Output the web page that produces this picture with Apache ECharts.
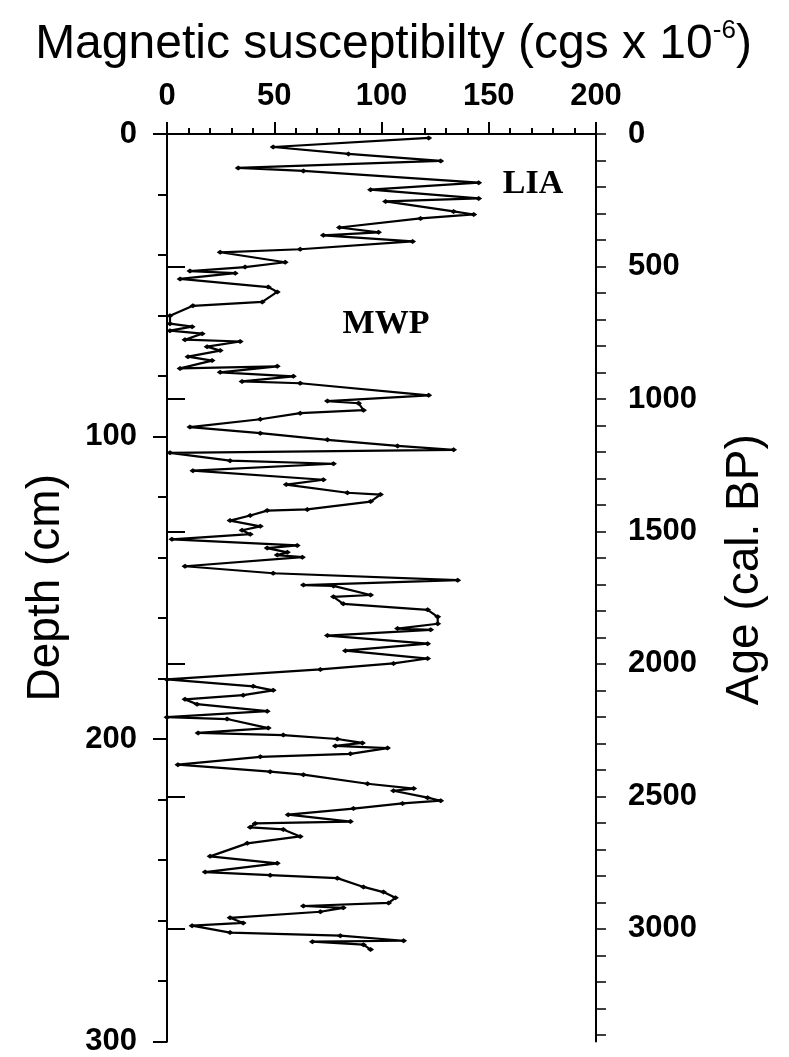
<!DOCTYPE html>
<html>
<head>
<meta charset="utf-8">
<script src="https://cdn.jsdelivr.net/npm/echarts@6/dist/echarts.min.js"></script>
<style>
  html, body { margin: 0; padding: 0; background: #fff; }
  #chart { width: 789px; height: 1057px; }
</style>
</head>
<body>
<div id="chart"></div>
<script>
// magnetic susceptibility (cgs x 10^-6), top to bottom
const susceptibility = [
  122.0, 49.5, 84.6, 127.6, 33.2, 63.6, 145.3, 94.9, 145.3, 101.9,
  133.6, 143.0, 118.2, 80.4, 98.6, 72.9, 114.5, 62.1, 24.8, 55.1,
  36.4, 10.7, 31.8, 6.1, 47.2, 51.4, 44.4, 12.1, 1.4, 1.4,
  11.7, 1.4, 16.4, 8.4, 34.1, 18.7, 24.8, 9.8, 21.0, 6.1,
  51.4, 24.8, 58.9, 35.0, 62.1, 122.0, 74.8, 89.3, 91.6, 62.1,
  43.5, 10.7, 43.5, 74.8, 107.5, 133.6, 1.4, 29.4, 77.6, 12.1,
  72.9, 55.6, 84.1, 99.5, 94.9, 65.4, 46.7, 38.8, 29.4, 43.5,
  35.0, 38.8, 2.3, 60.7, 46.7, 56.1, 51.4, 63.1, 8.4, 49.5,
  135.5, 63.6, 77.6, 94.9, 77.6, 82.2, 121.5, 126.2, 126.2, 107.5,
  122.9, 74.8, 121.5, 83.2, 121.5, 105.6, 71.5, 0.0, 40.2, 49.5,
  35.5, 8.4, 14.0, 46.7, 0.0, 28.0, 47.2, 14.5, 54.2, 79.4,
  91.1, 78.5, 102.8, 85.5, 43.5, 5.1, 48.1, 63.6, 93.5, 115.0,
  105.6, 121.5, 127.6, 109.8, 86.9, 56.5, 85.5, 41.1, 38.8, 54.2,
  62.1, 37.4, 20.1, 51.4, 17.8, 48.1, 79.4, 91.6, 100.9, 106.5,
  103.3, 63.6, 82.2, 71.5, 29.4, 35.5, 11.7, 29.4, 80.8, 110.3,
  67.8, 91.6, 94.9
];
// sample depth (cm)
const depth = [
  1.3, 4.3, 6.6, 8.9, 11.2, 12.2, 16.1, 18.4, 21.3, 22.3,
  25.6, 26.6, 27.9, 30.9, 32.5, 33.5, 35.5, 38.1, 39.1, 42.4,
  44.0, 45.3, 46.0, 47.9, 50.6, 52.2, 55.5, 56.8, 60.1, 62.7,
  63.7, 65.0, 66.0, 68.0, 68.6, 70.3, 71.6, 73.6, 74.9, 77.5,
  76.8, 78.8, 80.1, 81.8, 82.4, 86.4, 88.3, 89.0, 91.3, 92.3,
  94.3, 96.9, 98.9, 101.1, 103.1, 104.4, 105.4, 108.0, 109.0, 111.3,
  114.3, 115.9, 118.6, 119.2, 121.5, 124.1, 124.5, 126.1, 127.8, 129.7,
  131.0, 132.3, 134.0, 136.0, 136.9, 138.3, 139.2, 139.9, 142.9, 145.2,
  147.5, 149.1, 149.4, 152.4, 153.0, 155.3, 157.3, 159.6, 161.9, 163.5,
  163.9, 165.8, 168.5, 170.8, 173.4, 175.0, 177.0, 180.3, 182.6, 183.9,
  185.5, 186.9, 188.5, 190.8, 192.8, 193.4, 196.4, 198.0, 198.7, 200.0,
  201.3, 202.3, 203.0, 204.9, 205.9, 208.5, 210.8, 211.8, 214.8, 216.4,
  217.1, 219.4, 220.4, 221.3, 223.0, 225.0, 227.3, 227.9, 229.2, 229.9,
  232.2, 234.5, 238.8, 241.1, 244.0, 245.0, 246.0, 248.9, 250.6, 252.5,
  254.2, 255.2, 255.8, 257.1, 259.1, 260.8, 261.7, 264.0, 265.0, 266.7,
  267.0, 268.0, 269.6
];

// right-hand age scale (cal. BP)
const ageMajorTicks = [0, 500, 1000, 1500, 2000, 2500, 3000];
const ageMinorTicks = [0, 100, 200, 300, 400, 500, 600, 700, 800, 900, 1000,
  1100, 1200, 1300, 1400, 1500, 1600, 1700, 1800, 1900, 2000, 2100, 2200,
  2300, 2400, 2500, 2600, 2700, 2800, 2900, 3000, 3100, 3200, 3300, 3400];
const ageMax = 3425;

const annotations = [
  { text: 'LIA', x: 533, y: 184 },
  { text: 'MWP', x: 386, y: 324 }
];

const points = susceptibility.map((v, i) => [v, depth[i]]);

const sans = 'Liberation Sans';
const black = '#000';
const tickLabel = { color: black, fontFamily: sans, fontSize: 31, fontWeight: 'bold', formatter: v => String(v) };

const chart = echarts.init(document.getElementById('chart'));
chart.setOption({
  animation: false,
  backgroundColor: '#fff',
  grid: { left: 167, right: 193, top: 134, bottom: 10 },
  xAxis: [
    {
      type: 'value', position: 'top', min: 0, max: 200, interval: 50,
      name: '{a|Magnetic susceptibilty (cgs x 10}{s|-6}{a|)}',
      nameLocation: 'middle', nameGap: 62,
      nameTextStyle: {
        padding: [0, 0, 0, 24],
        rich: {
          a: { fontFamily: sans, fontSize: 48, color: black, lineHeight: 54 },
          s: { fontFamily: sans, fontSize: 26, color: black, verticalAlign: 'top', lineHeight: 54 }
        }
      },
      axisLine: { lineStyle: { color: black, width: 2 } },
      axisTick: { length: 12, lineStyle: { color: black, width: 2 } },
      minorTick: { show: true, splitNumber: 5, length: 6, lineStyle: { color: black, width: 2 } },
      axisLabel: Object.assign({ margin: 22 }, tickLabel),
      splitLine: { show: false }
    },
    {
      type: 'value', position: 'bottom', min: 0, max: 200,
      axisLine: { lineStyle: { color: black, width: 2 } },
      axisTick: { show: false }, axisLabel: { show: false }, splitLine: { show: false }
    }
  ],
  yAxis: [
    {
      type: 'value', position: 'left', inverse: true, min: 0, max: 300, interval: 100,
      name: 'Depth (cm)', nameLocation: 'middle', nameGap: 98, nameRotate: 90,
      nameTextStyle: { fontFamily: sans, fontSize: 46, color: black },
      axisLine: { lineStyle: { color: black, width: 2 } },
      axisTick: { length: 14, lineStyle: { color: black, width: 2 } },
      minorTick: { show: true, splitNumber: 5, length: 9, lineStyle: { color: black, width: 2 } },
      axisLabel: Object.assign({ margin: 30 }, tickLabel),
      splitLine: { show: false }
    },
    {
      type: 'value', position: 'right', inverse: true, min: 0, max: ageMax,
      name: 'Age (cal. BP)', nameLocation: 'middle', nameGap: 126, nameRotate: 90,
      nameTextStyle: { fontFamily: sans, fontSize: 46, color: black, padding: [0, 0, 0, 36] },
      axisLine: { lineStyle: { color: black, width: 2 } },
      axisTick: { customValues: ageMajorTicks, length: 18, lineStyle: { color: black, width: 2 } },
      axisLabel: Object.assign({ customValues: ageMajorTicks, margin: 32 }, tickLabel),
      splitLine: { show: false }
    },
    {
      type: 'value', position: 'right', inverse: true, min: 0, max: ageMax,
      axisLine: { lineStyle: { color: black, width: 2 } },
      axisTick: { customValues: ageMinorTicks, length: 10, lineStyle: { color: black, width: 1.5 } },
      axisLabel: { show: false },
      splitLine: { show: false }
    }
  ],
  series: [
    {
      type: 'line', xAxisIndex: 0, yAxisIndex: 0,
      data: points,
      showAllSymbol: true,
      symbol: 'diamond', symbolSize: [7, 5],
      itemStyle: { color: black },
      lineStyle: { color: black, width: 2.2 }
    }
  ],
  graphic: annotations.map(a => ({
    type: 'text', x: a.x, y: a.y,
    style: {
      text: a.text, fill: black, align: 'center', verticalAlign: 'middle',
      font: 'bold 34px "Liberation Serif"'
    }
  }))
});
</script>
</body>
</html>
